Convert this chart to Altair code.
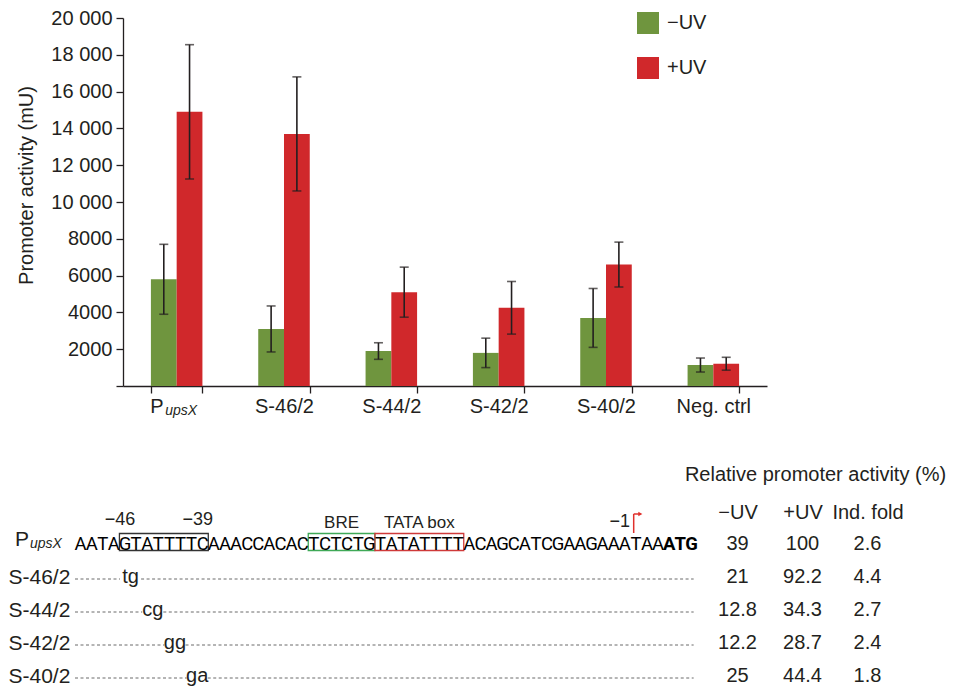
import altair as alt
import pandas as pd

# ---------------- bar chart data ----------------
categories = ["PupsX", "S-46/2", "S-44/2", "S-42/2", "S-40/2", "Neg. ctrl"]
series = ["\u2212UV", "+UV"]
minus_uv = [5800, 3100, 1900, 1800, 3700, 1140]
minus_uv_err = [1900, 1250, 450, 800, 1600, 380]
plus_uv = [14900, 13700, 5100, 4250, 6600, 1210]
plus_uv_err = [3650, 3100, 1360, 1430, 1220, 350]
y_ticks = list(range(0, 20001, 2000))

# ---------------- sequence panel data ----------------
sequence = "AATAGTATTTTCAAACCACACTCTCTGTATATTTTACAGCATCGAAGAAATAAATG"
first_position = -50
start_codon = "ATG"
box_names = ["site", "BRE", "TATA box"]
box_start = [-46, -29, -23]
box_end = [-39, -24, -16]
position_labels = ["\u221246", "\u221239"]
position_label_pos = [-46, -39]
tss_label = "\u22121"
tss_pos = -1
mutants = ["S-46/2", "S-44/2", "S-42/2", "S-40/2"]
mutant_pos = [-46, -44, -42, -40]
mutant_bases = ["tg", "cg", "gg", "ga"]
table_rows = ["PupsX"] + mutants
table_cols = ["\u2212UV", "+UV", "Ind. fold"]
rel_minus = ["39", "21", "12.8", "12.2", "25"]
rel_plus = ["100", "92.2", "34.3", "28.7", "44.4"]
ind_fold = ["2.6", "4.4", "2.7", "2.4", "1.8"]

# ---------------- styles ----------------
GREEN = "#6f953e"
RED = "#d0282b"
ARROW_RED = "#e0302c"
INK = "#231f20"
FONT = "Liberation Sans"
SEQ_FONT = "Roboto"
box_colors = ["#333333", "#3fa957", "#cf3a3a"]

# ---------------- top chart ----------------
recs = []
for i, c in enumerate(categories):
    for s, vals, errs in ((series[0], minus_uv, minus_uv_err), (series[1], plus_uv, plus_uv_err)):
        recs.append({"cat": c, "series": s, "value": vals[i],
                     "low": vals[i] - errs[i], "high": vals[i] + errs[i]})
bars = pd.DataFrame(recs)

W, H = 644, 368
x_cat = alt.X("cat:N", sort=categories,
              scale=alt.Scale(domain=categories, paddingInner=0.52, paddingOuter=0.26),
              axis=alt.Axis(title=None, labelAngle=0, tickBand="extent", labelPadding=3,
                            labelExpr="datum.value == 'PupsX' ? '' : datum.label"))
x_off = alt.XOffset("series:N", sort=series,
                    scale=alt.Scale(domain=series, paddingInner=0, paddingOuter=0))
y_scale = alt.Scale(domain=[0, 20000], nice=False)
y_axis = alt.Axis(values=y_ticks, title="Promoter activity (mU)", labelPadding=4,
                  titlePadding=14, titleY=167,
                  labelExpr="datum.value == 0 ? '' : (datum.value >= 10000 ? "
                            "replace(format(datum.value, ','), ',', ' ') : format(datum.value, 'd'))")

bar_layer = alt.Chart(bars).mark_bar().encode(
    x=x_cat, xOffset=x_off,
    y=alt.Y("value:Q", scale=y_scale, axis=y_axis),
    color=alt.Color("series:N", sort=series,
                    scale=alt.Scale(domain=series, range=[GREEN, RED]),
                    legend=alt.Legend(orient="none", legendX=514, legendY=-6, title=None,
                                      symbolType="square", symbolSize=484,
                                      symbolStrokeWidth=0, labelFontSize=20,
                                      rowPadding=23, labelOffset=8, padding=0,
                                      labelColor=INK, labelFont=FONT)))
err_rule = alt.Chart(bars).mark_rule(color=INK, strokeWidth=1.6).encode(
    x=x_cat, xOffset=x_off,
    y=alt.Y("low:Q", scale=y_scale, axis=y_axis), y2="high:Q")
cap_low = alt.Chart(bars).mark_tick(color=INK, thickness=1.6, size=9).encode(
    x=x_cat, xOffset=x_off, y=alt.Y("low:Q", scale=y_scale, axis=y_axis))
cap_high = alt.Chart(bars).mark_tick(color=INK, thickness=1.6, size=9).encode(
    x=x_cat, xOffset=x_off, y=alt.Y("high:Q", scale=y_scale, axis=y_axis))
p_src = alt.Data(values=[{"cat": "PupsX"}])
p_main = alt.Chart(p_src).mark_text(text="P", align="left", baseline="alphabetic",
                                    fontSize=20, dx=-26.5, color=INK).encode(
    x=x_cat, y=alt.value(H + 27))
p_sub = alt.Chart(p_src).mark_text(text="upsX", align="left", baseline="alphabetic",
                                   fontSize=14, fontStyle="italic", dx=-11.5, color=INK).encode(
    x=x_cat, y=alt.value(H + 29))

top = alt.layer(bar_layer, err_rule, cap_low, cap_high, p_main, p_sub).properties(width=W, height=H)

# ---------------- bottom chart ----------------
n0 = first_position
rows = table_rows
y_row = alt.Y("row:N", sort=rows,
              scale=alt.Scale(type="point", domain=rows, padding=0),
              axis=alt.Axis(title=None, ticks=False, tickSize=0, domain=False,
                            labelAlign="left", labelPadding=115, labelFontSize=21,
                            labelColor=INK,
                            labelExpr="datum.value == 'PupsX' ? '' : datum.label"))
x_seq_scale = alt.Scale(domain=[4.3215, 56], nice=False, zero=False)


def xs(field):
    return alt.X(field, scale=x_seq_scale, axis=None)


atg_start = sequence.rfind(start_codon)
seq_df = pd.DataFrame({"row": "PupsX",
                       "c": [i + 0.5 for i in range(len(sequence))],
                       "ch": list(sequence),
                       "bold": [i >= atg_start for i in range(len(sequence))]})
seq_norm = alt.Chart(seq_df[~seq_df["bold"]]).mark_text(
    font=SEQ_FONT, fontSize=18.5, baseline="middle", color="#000000").encode(
    x=xs("c:Q"), y=y_row, text="ch:N")
seq_bold = alt.Chart(seq_df[seq_df["bold"]]).mark_text(
    font=SEQ_FONT, fontSize=18.5, fontWeight="bold", baseline="middle", color="#000000").encode(
    x=xs("c:Q"), y=y_row, text="ch:N")

box_df = pd.DataFrame({"row": "PupsX", "name": box_names,
                       "x0": [s - n0 for s in box_start],
                       "x1": [e - n0 + 1 for e in box_end]})
boxes = alt.Chart(box_df).mark_rect(fillOpacity=0, strokeWidth=1.3, height=17, yOffset=-2).encode(
    x=xs("x0:Q"), x2="x1:Q", y=y_row,
    stroke=alt.Stroke("name:N", scale=alt.Scale(domain=box_names, range=box_colors), legend=None))

pos_df = pd.DataFrame({"row": "PupsX",
                       "c": [p - n0 + 0.5 for p in position_label_pos],
                       "label": position_labels})
pos_text = alt.Chart(pos_df).mark_text(fontSize=18, dx=-5, dy=-24, baseline="middle", color=INK).encode(
    x=xs("c:Q"), y=y_row, text="label:N")

blab_df = pd.DataFrame({"row": "PupsX",
                        "c": [((s - n0) + (e - n0 + 1)) / 2 for s, e in zip(box_start[1:], box_end[1:])],
                        "label": box_names[1:]})
blab_text = alt.Chart(blab_df).mark_text(fontSize=17, dy=-21, baseline="middle", color=INK).encode(
    x=xs("c:Q"), y=y_row, text="label:N")

tss_idx = tss_pos - n0
tss_df = pd.DataFrame({"row": ["PupsX"], "c": [tss_idx + 0.5], "label": [tss_label]})
tss_text = alt.Chart(tss_df).mark_text(fontSize=18, dx=-5, dy=-22, baseline="middle", color=INK).encode(
    x=xs("c:Q"), y=y_row, text="label:N")

arrow_df = pd.DataFrame({"row": ["PupsX"], "c": [tss_idx + 1.3], "c2": [tss_idx + 1.9]})
arrow_v = alt.Chart(arrow_df).mark_rule(color=ARROW_RED, strokeWidth=1.5, yOffset=-11, y2Offset=-30).encode(
    x=xs("c:Q"), y=y_row, y2=alt.Y2("row"))
arrow_h = alt.Chart(arrow_df).mark_rule(color=ARROW_RED, strokeWidth=1.5, yOffset=-30).encode(
    x=xs("c:Q"), x2="c2:Q", y=y_row)
arrow_head = alt.Chart(arrow_df).mark_point(shape="triangle-right", filled=True, size=22,
                                            color=ARROW_RED, opacity=1, yOffset=-30).encode(
    x=xs("c2:Q"), y=y_row)

mut_df = pd.DataFrame({"row": mutants, "c": [p - n0 + 1 for p in mutant_pos], "bases": mutant_bases})
mut_text = alt.Chart(mut_df).mark_text(fontSize=20, baseline="middle", color=INK).encode(
    x=xs("c:Q"), y=y_row, text="bases:N")

dash_recs = []
for r, p in zip(mutants, mutant_pos):
    m = p - n0
    dash_recs.append({"row": r, "a": 0, "b": m + 0.05})
    dash_recs.append({"row": r, "a": m + 1.95, "b": len(sequence) - 0.3})
dash_df = pd.DataFrame(dash_recs)
dashes = alt.Chart(dash_df).mark_rule(color="#6b6b6b", strokeWidth=1, strokeDash=[3, 2.5], yOffset=2).encode(
    x=xs("a:Q"), x2="b:Q", y=y_row)

plab_src = alt.Data(values=[{"row": "PupsX"}])
plab_main = alt.Chart(plab_src).mark_text(text="P", align="left", baseline="alphabetic",
                                          fontSize=21, dy=2, color=INK).encode(
    x=alt.value(-108), y=y_row)
plab_sub = alt.Chart(plab_src).mark_text(text="upsX", align="left", baseline="alphabetic",
                                         fontSize=14, fontStyle="italic", dy=4, color=INK).encode(
    x=alt.value(-93), y=y_row)

tab_recs = []
for i, r in enumerate(rows):
    for col, vals in zip(table_cols, (rel_minus, rel_plus, ind_fold)):
        tab_recs.append({"row": r, "col": col, "val": vals[i]})
tab_df = pd.DataFrame(tab_recs)
table = alt.Chart(tab_df).mark_text(fontSize=20, baseline="middle", color=INK).encode(
    x=alt.X("col:N", sort=table_cols,
            scale=alt.Scale(domain=table_cols, range=[582, 777], paddingInner=0, paddingOuter=0),
            axis=alt.Axis(orient="top", title="Relative promoter activity (%)", titleX=692,
                          titlePadding=18, labelPadding=22, ticks=False, tickSize=0,
                          domain=False, labelAngle=0, labelFontSize=20, titleFontSize=20,
                          titleFontWeight="normal")),
    y=y_row, text="val:N")

seq_panel = alt.layer(dashes, boxes, seq_norm, seq_bold, pos_text, blab_text, tss_text,
                      arrow_v, arrow_h, arrow_head, mut_text, plab_main, plab_sub)
bottom = alt.layer(seq_panel, table).resolve_scale(x="independent").properties(width=574, height=132)

chart = alt.vconcat(top, bottom, spacing=46).properties(padding=0).configure(
    font=FONT
).configure_view(stroke=None).configure_axis(
    labelFont=FONT, titleFont=FONT, labelColor=INK, titleColor=INK,
    domainColor=INK, tickColor=INK, labelFontSize=20, titleFontSize=20,
    titleFontWeight="normal", tickSize=7, domainWidth=1.3, tickWidth=1.3, grid=False)

chart.save("out.html", embed_options={"renderer": "svg", "actions": False})
